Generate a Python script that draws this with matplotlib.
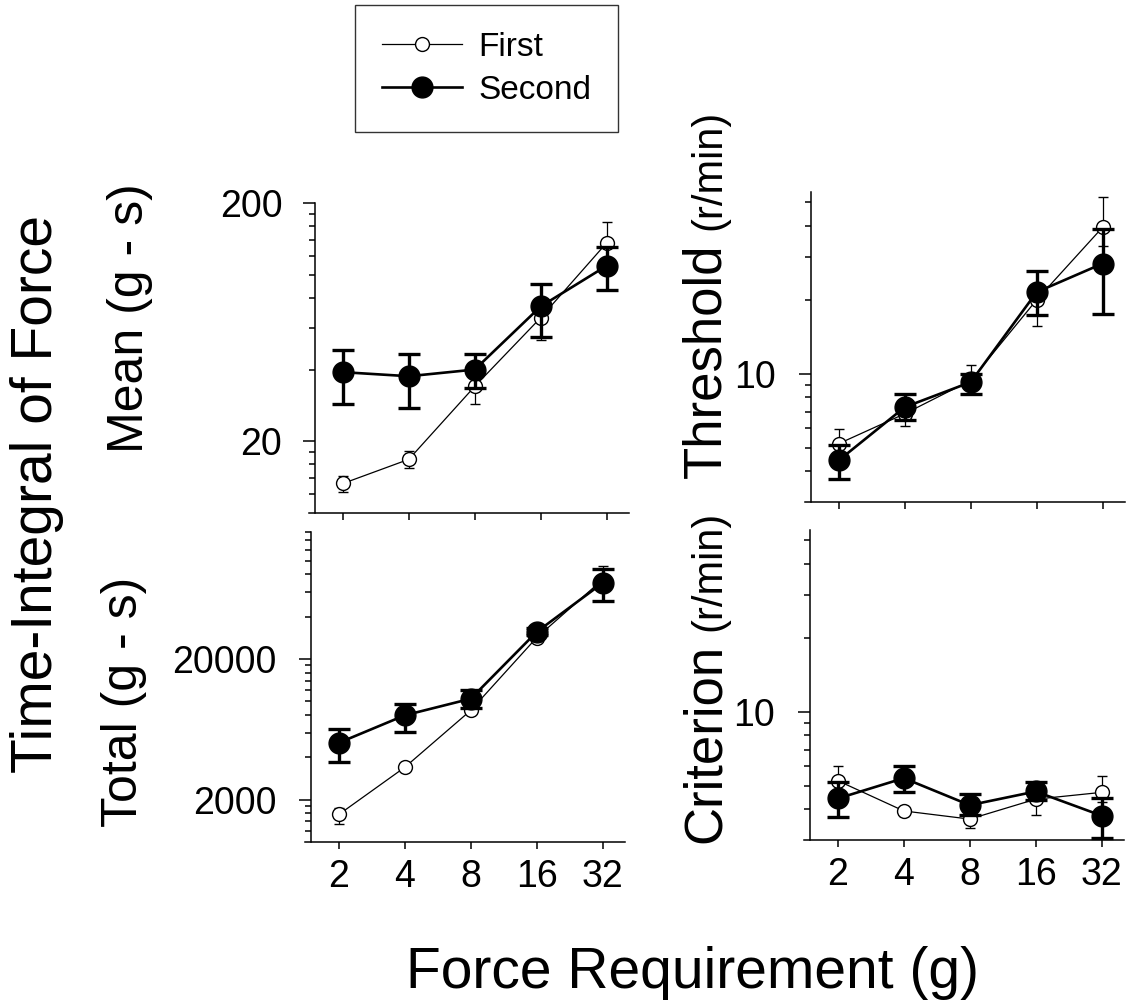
import numpy as np
import matplotlib
matplotlib.use("Agg")
import matplotlib.pyplot as plt
from matplotlib.lines import Line2D
from matplotlib.ticker import FixedLocator, NullFormatter, FixedFormatter

plt.rcParams['font.family'] = ['Liberation Sans', 'DejaVu Sans']

# ---------------- data ----------------
force = [2, 4, 8, 16, 32]
force_labels = ["2", "4", "8", "16", "32"]

# Mean time-integral of force (g - s)
first_mean = [13.3, 16.8, 34.0, 66.0, 136.0]
first_mean_lo = [12.2, 15.5, 28.8, 53.4, 115.0]
first_mean_hi = [14.3, 18.2, 39.4, 80.0, 167.0]
second_mean = [39.0, 37.5, 40.0, 73.6, 109.0]
second_mean_lo = [28.8, 27.6, 33.4, 54.6, 86.4]
second_mean_hi = [48.5, 46.7, 46.3, 91.5, 131.3]

# Total time-integral of force (g - s)
first_total = [1570, 3400, 8630, 28400, 73400]
first_total_lo = [1340, 3200, 8100, 26500, 62000]
first_total_hi = [1750, 3600, 9200, 30500, 92200]
second_total = [5075, 7960, 10440, 31150, 69400]
second_total_lo = [3730, 6060, 8960, 29500, 51600]
second_total_hi = [6340, 9620, 11950, 33000, 87800]

# Threshold (r/min)
first_thr = [5.19, 6.87, 9.39, 20.0, 39.5]
first_thr_lo = [4.7, 6.1, 8.3, 15.7, 33.0]
first_thr_hi = [5.97, 7.6, 10.9, 23.0, 52.7]
second_thr = [4.44, 7.31, 9.24, 21.5, 28.1]
second_thr_lo = [3.71, 6.45, 8.24, 17.3, 17.5]
second_thr_hi = [5.1, 8.29, 9.93, 26.1, 38.9]

# Criterion (r/min)
first_cri = [5.23, 3.94, 3.65, 4.4, 4.69]
first_cri_lo = [4.8, 3.75, 3.36, 3.8, 4.3]
first_cri_hi = [6.0, 4.1, 3.9, 4.9, 5.48]
second_cri = [4.43, 5.36, 4.16, 4.73, 3.77]
second_cri_lo = [3.74, 4.69, 3.8, 4.37, 3.07]
second_cri_hi = [5.17, 6.02, 4.6, 5.17, 4.46]

series_names = ["First", "Second"]

# ---------------- layout ----------------
W, H = 1139, 1005
fig = plt.figure(figsize=(W / 100, H / 100), dpi=100)


def rect(l, r, t, b):
    return [l / W, 1 - b / H, (r - l) / W, (b - t) / H]


def fx(x):
    return x / W


def fy(y):
    return 1 - y / H


XLIM = (1.4, 40.5)

panels = [
    dict(rect=rect(309, 629, 203, 513), ylim=(10, 200), major=[20, 200],
         minor=[12, 14, 16, 18] + list(range(40, 200, 20)),
         data=(first_mean, first_mean_lo, first_mean_hi, second_mean, second_mean_lo, second_mean_hi),
         xlabels=False, ypad=15),
    dict(rect=rect(305, 625, 532, 842), ylim=(1000, 160000), major=[2000, 20000],
         minor=[1200, 1400, 1600, 1800] + list(range(4000, 20000, 2000)) + list(range(40000, 160001, 20000)),
         data=(first_total, first_total_lo, first_total_hi, second_total, second_total_lo, second_total_hi),
         xlabels=True, ypad=16),
    dict(rect=rect(805, 1125, 192, 502), ylim=(3, 55), major=[10],
         minor=[4, 5, 6, 7, 8, 9, 20, 30, 40, 50],
         data=(first_thr, first_thr_lo, first_thr_hi, second_thr, second_thr_lo, second_thr_hi),
         xlabels=False, ypad=17),
    dict(rect=rect(804, 1124, 530, 840), ylim=(3, 55), major=[10],
         minor=[4, 5, 6, 7, 8, 9, 20, 30, 40, 50],
         data=(first_cri, first_cri_lo, first_cri_hi, second_cri, second_cri_lo, second_cri_hi),
         xlabels=True, ypad=17),
]

TICKFS = 27

for p in panels:
    ax = fig.add_axes(p['rect'])
    ax.set_xscale('log')
    ax.set_yscale('log')
    ax.set_xlim(*XLIM)
    ax.set_ylim(*p['ylim'])
    f, flo, fhi, s, slo, shi = [np.array(a, dtype=float) for a in p['data']]

    ax.errorbar(force, f, yerr=[f - flo, fhi - f], fmt='-o', color='black',
                mfc='white', mec='black', mew=1.0, ms=10, lw=0.9,
                elinewidth=0.9, capsize=3.8, capthick=0.9, zorder=3, clip_on=False)
    ax.errorbar(force, s, yerr=[s - slo, shi - s], fmt='-o', color='black',
                mfc='black', mec='black', ms=15, lw=1.9,
                elinewidth=2.4, capsize=8, capthick=2.4, zorder=4, clip_on=False)

    for side in ('top', 'right'):
        ax.spines[side].set_visible(False)
    ax.spines['left'].set_position(('axes', 6 / 320))
    ax.spines['left'].set_linewidth(1.1)
    ax.spines['bottom'].set_linewidth(1.1)

    ax.xaxis.set_major_locator(FixedLocator(force))
    ax.xaxis.set_minor_locator(FixedLocator([]))
    if p['xlabels']:
        ax.xaxis.set_major_formatter(FixedFormatter(force_labels))
    else:
        ax.xaxis.set_major_formatter(NullFormatter())
    ax.xaxis.set_minor_formatter(NullFormatter())

    ax.yaxis.set_major_locator(FixedLocator(p['major']))
    ax.yaxis.set_major_formatter(FixedFormatter([str(v) for v in p['major']]))
    ax.yaxis.set_minor_locator(FixedLocator(p['minor']))
    ax.yaxis.set_minor_formatter(NullFormatter())

    ax.tick_params(axis='x', which='major', direction='out', length=5, width=1.1,
                   labelsize=TICKFS, pad=7)
    ax.tick_params(axis='y', which='major', direction='out', length=8.5, width=1.1,
                   labelsize=TICKFS, pad=p['ypad'])
    ax.tick_params(axis='y', which='minor', direction='out', length=4.5, width=1.1)
    ax.set_facecolor('none')

# ---------------- axis labels ----------------
fig.text(fx(143), fy(453), "Mean (g - s)", rotation=90, rotation_mode='anchor',
         ha='left', va='baseline', fontsize=36)
fig.text(fx(137), fy(827), "Total (g - s)", rotation=90, rotation_mode='anchor',
         ha='left', va='baseline', fontsize=36)
fig.text(fx(52), fy(773), "Time-Integral of Force", rotation=90, rotation_mode='anchor',
         ha='left', va='baseline', fontsize=41)
fig.text(fx(692), fy(988), "Force Requirement (g)", ha='center', va='baseline', fontsize=41)


def two_size_label(xb, ystart, big, small, fs_big, fs_small, gap_px):
    t1 = fig.text(fx(xb), fy(ystart), big, rotation=90, rotation_mode='anchor',
                  ha='left', va='baseline', fontsize=fs_big)
    fig.canvas.draw()
    bb = t1.get_window_extent()
    ytop_disp = bb.y1  # display coords (pixels from bottom)
    fig.text(fx(xb), (ytop_disp + gap_px) / H, small, rotation=90, rotation_mode='anchor',
             ha='left', va='baseline', fontsize=fs_small)


two_size_label(720, 478, "Threshold", "(r/min)", 38, 30, 13)
two_size_label(720, 843, "Criterion", "(r/min)", 38, 30, 13)

# ---------------- legend ----------------
h1 = Line2D([], [], color='black', lw=0.9, marker='o', ms=10, mfc='white', mec='black')
h2 = Line2D([], [], color='black', lw=1.9, marker='o', ms=15, mfc='black', mec='black')
leg = fig.legend([h1, h2], series_names, loc='upper left',
                 bbox_to_anchor=(fx(355), fy(5)), bbox_transform=fig.transFigure,
                 fontsize=24, frameon=True, fancybox=False, shadow=False,
                 handlelength=2.4, handletextpad=0.5, labelspacing=0.36,
                 borderpad=0.8, borderaxespad=0)
leg.get_frame().set_edgecolor('black')
leg.get_frame().set_linewidth(1.0)

fig.savefig("out.png", dpi=100)
